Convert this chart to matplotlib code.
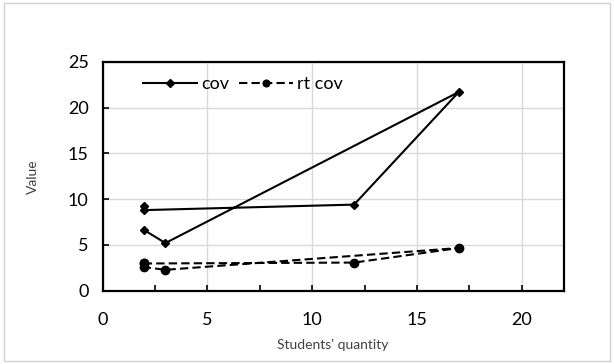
import matplotlib
matplotlib.use("Agg")
import matplotlib.pyplot as plt
from matplotlib.patches import Rectangle
from matplotlib.ticker import MultipleLocator

plt.rcParams['font.family'] = ['Lato', 'DejaVu Sans']

x_vals = [2, 2, 12, 17, 3, 2]
cov = [9.3, 8.8, 9.4, 21.7, 5.2, 6.6]
rt_cov = [3.05, 2.97, 3.07, 4.66, 2.28, 2.57]
x_ticks = [0, 5, 10, 15, 20]
y_ticks = [0, 5, 10, 15, 20, 25]

fig = plt.figure(figsize=(6.14, 3.64), dpi=100)
fig.patches.append(Rectangle((0.006, 0.008), 0.988, 0.984, transform=fig.transFigure,
                             fill=False, edgecolor='#d0d0d0', linewidth=1.0))
ax = fig.add_axes([0.167, 0.2014, 0.751, 0.629])

ax.plot(x_vals, cov, color='black', linestyle='-', linewidth=1.5, marker='D',
        markersize=4.5, label='cov')
ax.plot(x_vals, rt_cov, color='black', linestyle=(0, (4, 2)), linewidth=1.5, marker='o',
        markersize=6, label='rt cov')

ax.set_xlim(0, 22)
ax.set_ylim(0, 25)
ax.set_xticks(x_ticks)
ax.set_yticks(y_ticks)
ax.xaxis.set_minor_locator(MultipleLocator(2.5))
ax.grid(True, which='major', color='#d9d9d9', linewidth=1.0)
ax.set_axisbelow(True)
ax.tick_params(axis='both', which='both', direction='in', length=4, width=1.2,
               labelsize=13, colors='black')
ax.tick_params(axis='x', which='both', pad=15)
ax.tick_params(axis='y', which='both', pad=10)
for s in ax.spines.values():
    s.set_linewidth(1.6)
    s.set_color('black')

ax.set_xlabel("Students' quantity", fontsize=10, color='#404040', va='center')
ax.xaxis.set_label_coords(0.5, -0.237)
ax.set_ylabel("Value", fontsize=10, color='#404040', va='center')
ax.yaxis.set_label_coords(-0.151, 0.5)

leg = ax.legend(loc='center left', ncol=2, frameon=False, fontsize=13,
                handlelength=3.0, handletextpad=0.25, columnspacing=0.5,
                bbox_to_anchor=(0.0876, 0.901), borderaxespad=0, borderpad=0,
                markerscale=0.8)

fig.savefig("out.png", dpi=100)
